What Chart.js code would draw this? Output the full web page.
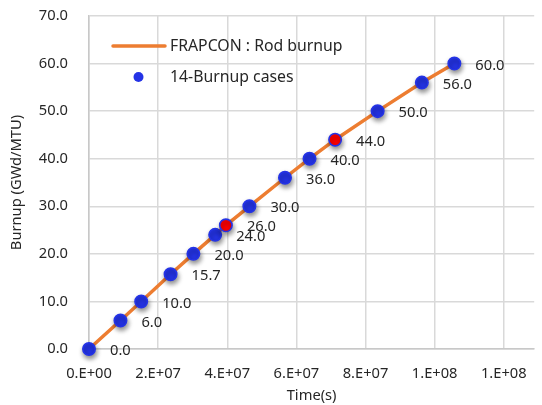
<!DOCTYPE html>
<html>
<head>
<meta charset="utf-8">
<script src="https://cdn.jsdelivr.net/npm/chart.js@4"></script>
<style>
  html, body { margin: 0; padding: 0; background: #fff; }
  #wrap { width: 542px; height: 405px; }
</style>
</head>
<body>
<div id="wrap"><canvas id="c" width="542" height="405"></canvas></div>
<script>
// Irradiation time (s) and rod-average burnup (GWd/MTU) of the 14 burnup cases
const timeSec = [0, 9.1e6, 1.51e7, 2.36e7, 3.02e7, 3.65e7, 3.96e7, 4.64e7,
                 5.67e7, 6.38e7, 7.12e7, 8.35e7, 9.63e7, 1.057e8];
const burnup  = [0.0, 6.0, 10.0, 15.7, 20.0, 24.0, 26.0, 30.0,
                 36.0, 40.0, 44.0, 50.0, 56.0, 60.0];
// Cases marked with a red centre
const markedCases = [26.0, 44.0];

const xTickValues = [0, 2e7, 4e7, 6e7, 8e7, 1e8, 1.2e8];
const xTickLabels = ['0.E+00', '2.E+07', '4.E+07', '6.E+07', '8.E+07', '1.E+08', '1.E+08'];
const yTickValues = [0, 10, 20, 30, 40, 50, 60, 70];

const FONT = '"Noto Sans", "Open Sans", sans-serif';
const SIZE = 14.7;
const BLUE = '#2433E6';
const RED = '#FF0000';
const ORANGE = '#ED7D31';
const TEXT = '#262626';

const pts = timeSec.map((t, i) => ({ x: t, y: burnup[i] }));

// soft drop shadow under the case markers
const shadowPlugin = {
  id: 'markerShadow',
  beforeDatasetDraw(chart, args) {
    if (args.index !== 1) return;
    const ctx = chart.ctx;
    ctx.save();
    ctx.shadowColor = 'rgba(0,0,0,0.45)';
    ctx.shadowBlur = 5;
    ctx.shadowOffsetX = 1;
    ctx.shadowOffsetY = 3;
  },
  afterDatasetDraw(chart, args) {
    if (args.index !== 1) return;
    chart.ctx.restore();
  }
};

// value labels to the right of each case marker
const valueLabels = {
  id: 'valueLabels',
  afterDatasetsDraw(chart) {
    const ctx = chart.ctx;
    const meta = chart.getDatasetMeta(1);
    ctx.save();
    ctx.font = SIZE + 'px ' + FONT;
    ctx.fillStyle = TEXT;
    ctx.textAlign = 'left';
    ctx.textBaseline = 'middle';
    meta.data.forEach((el, i) => {
      const v = chart.data.datasets[1].data[i].y;
      ctx.fillText(v.toFixed(1), el.x + 21, el.y + 2);
    });
    ctx.restore();
  }
};

// legend inside the plot area, top left
const insideLegend = {
  id: 'insideLegend',
  afterDraw(chart) {
    const ctx = chart.ctx;
    const ds = chart.data.datasets;
    ctx.save();
    ctx.font = '15.8px ' + FONT;
    ctx.fillStyle = TEXT;
    ctx.textAlign = 'left';
    ctx.textBaseline = 'middle';
    // line entry
    ctx.strokeStyle = ds[0].borderColor;
    ctx.lineWidth = ds[0].borderWidth;
    ctx.lineCap = 'round';
    ctx.beginPath();
    ctx.moveTo(113, 46);
    ctx.lineTo(165, 46);
    ctx.stroke();
    ctx.fillText(ds[0].label, 170, 46);
    // marker entry
    ctx.fillStyle = BLUE;
    ctx.beginPath();
    ctx.arc(138.5, 77, 5, 0, Math.PI * 2);
    ctx.fill();
    ctx.fillStyle = TEXT;
    ctx.fillText(ds[1].label, 170, 77);
    ctx.restore();
  }
};

new Chart(document.getElementById('c'), {
  type: 'scatter',
  data: {
    datasets: [
      {
        type: 'line',
        label: 'FRAPCON : Rod burnup',
        data: pts,
        borderColor: ORANGE,
        borderWidth: 3.5,
        pointRadius: 0,
        tension: 0,
        fill: false,
        clip: false,
        order: 1
      },
      {
        label: '14-Burnup cases',
        data: pts,
        pointRadius: 6.2,
        pointBorderWidth: 1.6,
        pointBorderColor: BLUE,
        pointBackgroundColor: burnup.map(v => markedCases.includes(v) ? RED : BLUE),
        clip: false,
        order: 0
      }
    ]
  },
  options: {
    responsive: false,
    animation: false,
    layout: { padding: { left: 0, right: 1, top: 16, bottom: 0 } },
    plugins: {
      legend: { display: false },
      tooltip: { enabled: false }
    },
    scales: {
      x: {
        type: 'linear',
        min: 0,
        max: 1.288e8,
        afterBuildTicks(scale) { scale.ticks = xTickValues.map(v => ({ value: v })); },
        afterFit(scale) {
          scale.height = 56;
          scale.paddingLeft = 0;
          scale.paddingRight = 0;
        },
        grid: { color: '#d9d9d9', lineWidth: 1.5, drawTicks: false },
        border: { color: '#c8c8c8', width: 1.5 },
        ticks: {
          padding: 16.5,
          maxRotation: 0,
          autoSkip: false,
          color: TEXT,
          font: { family: FONT, size: SIZE },
          callback(value) {
            const i = xTickValues.indexOf(value);
            return i >= 0 ? xTickLabels[i] : '';
          }
        },
        title: {
          display: true,
          text: 'Time(s)',
          color: TEXT,
          font: { family: FONT, size: SIZE },
          padding: { top: 0, bottom: 0 }
        }
      },
      y: {
        min: 0,
        max: 70,
        afterBuildTicks(scale) { scale.ticks = yTickValues.map(v => ({ value: v })); },
        afterFit(scale) {
          scale.width = 89;
          scale.paddingTop = 0;
          scale.paddingBottom = 0;
        },
        grid: { color: '#d9d9d9', lineWidth: 1.5, drawTicks: false },
        border: { color: '#c8c8c8', width: 1.5 },
        ticks: {
          padding: 21,
          color: TEXT,
          font: { family: FONT, size: SIZE },
          callback(value) { return value.toFixed(1); }
        },
        title: {
          display: true,
          text: 'Burnup (GWd/MTU)',
          color: TEXT,
          font: { family: FONT, size: SIZE },
          padding: { top: 8, bottom: 0 }
        }
      }
    }
  },
  plugins: [shadowPlugin, valueLabels, insideLegend]
});
</script>
</body>
</html>
